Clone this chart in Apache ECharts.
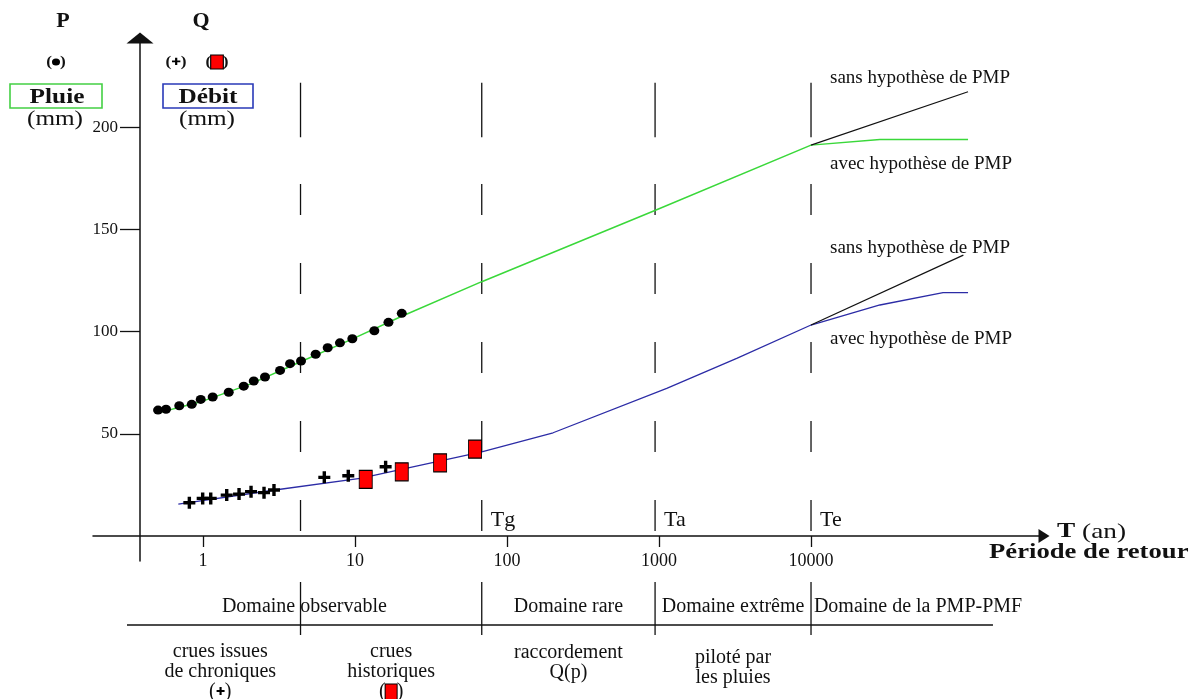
<!DOCTYPE html>
<html><head><meta charset="utf-8">
<script src="https://cdn.jsdelivr.net/npm/echarts@6/dist/echarts.min.js"></script>
<style>html,body{margin:0;padding:0;background:#fff}#c{width:1197px;height:699px}</style>
</head><body><div id="c"></div>
<script>
// ---------- data ----------
const xTicks = [1, 10, 100, 1000, 10000];
const yTicks = [50, 100, 150, 200];
const boundaries = [4.38, 68.2, 942, 10000];
const boundaryTags = ['', 'Tg', 'Ta', 'Te'];
const domainLabels = ['Domaine observable', 'Domaine rare', 'Domaine extrême', 'Domaine de la PMP-PMF'];
const noteLabels = ['crues issues\nde chroniques', 'crues\nhistoriques', 'raccordement\nQ(p)', 'piloté par\nles pluies'];

// Pluie observée (points noirs)
const pluieObsT = [0.506, 0.571, 0.698, 0.843, 0.966, 1.158, 1.476, 1.853, 2.157, 2.557, 3.212, 3.736, 4.414, 5.51, 6.61, 7.96, 9.60, 13.4, 16.6, 20.3];
const pluieObsP = [61.6, 62.0, 63.7, 64.4, 66.8, 68.0, 70.3, 73.3, 75.8, 77.8, 81.0, 84.3, 85.6, 88.9, 92.1, 94.5, 96.5, 100.4, 104.5, 108.9];
// Pluie ajustée
const pluieFitT = [0.498, 0.955, 2.04, 4.35, 9.25, 19.8, 68.2, 939, 10000];
const pluieFitP = [60.1, 65.5, 74.3, 85.1, 95.8, 107.1, 124.4, 159.2, 191.2];
const pluieAvecT = [10000, 28400, 107900];
const pluieAvecP = [191.2, 194.0, 194.0];
const pluieSansT = [10000, 107900];
const pluieSansP = [191.2, 217.3];

// Débit : crues issues de chroniques (+)
const debitChronT = [0.813, 0.995, 1.124, 1.432, 1.726, 2.07, 2.52, 2.93, 6.28, 9.03, 15.9];
const debitChronQ = [16.3, 18.4, 18.4, 20.0, 20.5, 21.7, 21.2, 22.5, 28.7, 29.5, 33.9];
// Débit : crues historiques (rectangles rouges)
const debitHistT = [11.76, 20.3, 36.3, 61.6];
const debitHistQ = [27.7, 31.4, 35.8, 42.5];
// Débit ajusté
const debitFitT = [0.688, 2.97, 10.8, 68.2, 201, 1124, 3245, 10000];
const debitFitQ = [15.6, 22.5, 28.2, 41.2, 50.5, 72.2, 86.9, 103.2];
const debitAvecT = [10000, 28400, 73900, 107900];
const debitAvecQ = [103.2, 113.0, 119.0, 119.0];
const debitSansT = [10000, 100500];
const debitSansQ = [103.2, 137.4];

// ---------- build ----------
const SERIF = "'Liberation Serif','Times New Roman',serif";
const INK = '#111';
const GREEN = '#3ad83a';
const BLUE = '#2c2ca6';
const zip = (a, b) => a.map((v, i) => [v, b[i]]);
const gm = (a, b) => Math.sqrt(a * b);

const X_MIN = 0.1889, X_MAX = 341000;
const ruleStartT = 0.316, ruleEndT = 157400, axisStartT = 0.385, lastLabelEdgeT = 256000;
const DASH_TOP = 195.1, LINE_TOP = 221.7;

const series = [];
function line(data, color, width, extra) {
  return Object.assign({ type: 'line', data, symbol: 'none', silent: true,
    lineStyle: { color, width }, z: 3 }, extra || {});
}
series.push(line(zip(pluieFitT, pluieFitP).concat(zip(pluieAvecT, pluieAvecP).slice(1)), GREEN, 1.5));
series.push(line(zip(pluieSansT, pluieSansP), INK, 1.2));
series.push(line(zip(debitFitT, debitFitQ).concat(zip(debitAvecT, debitAvecQ).slice(1)), BLUE, 1.3));
series.push(line(zip(debitSansT, debitSansQ), INK, 1.2));

boundaries.forEach(b => {
  series.push(line([[b, 0], [b, DASH_TOP]], INK, 1.3, { lineStyle: { color: INK, width: 1.3, type: [31, 48], dashOffset: 74 }, z: 2 }));
  series.push(line([[b, DASH_TOP], [b, LINE_TOP]], INK, 1.3, { z: 2 }));
});

series.push({ type: 'scatter', data: zip(pluieObsT, pluieObsP), symbol: 'circle', symbolSize: [10, 9],
  itemStyle: { color: '#000', opacity: 1 }, z: 5, silent: true });
series.push({ type: 'scatter', data: zip(debitChronT, debitChronQ),
  symbol: 'path://M0,4.3H4.3V0H7.7V4.3H12V7.7H7.7V12H4.3V7.7H0Z', symbolSize: 12,
  itemStyle: { color: '#000', opacity: 1 }, z: 5, silent: true });
series.push({ type: 'scatter', data: zip(debitHistT, debitHistQ), symbol: 'rect', symbolSize: [13, 18],
  itemStyle: { color: '#ff0000', borderColor: '#000', borderWidth: 1, opacity: 1 }, z: 6, silent: true });

// Tg / Ta / Te tags
series.push({ type: 'scatter', symbolSize: 0, silent: true, z: 6, itemStyle: { opacity: 1 },
  data: boundaries.map((b, i) => ({ value: [b, 7.5], label: { formatter: boundaryTags[i] } })),
  label: { show: true, position: 'right', distance: 9, fontFamily: SERIF, fontSize: 22, color: INK } });

// ---- lower table (grid 1) ----
boundaries.forEach(b => {
  series.push(line([[b, 12], [b, 65]], INK, 1.3, { xAxisIndex: 1, yAxisIndex: 1 }));
});
series.push(line([[ruleStartT, 55], [ruleEndT, 55]], INK, 1.3, { xAxisIndex: 1, yAxisIndex: 1 }));
const domainEdges = [ruleStartT, boundaries[1], boundaries[2], boundaries[3], lastLabelEdgeT];
series.push({ type: 'scatter', xAxisIndex: 1, yAxisIndex: 1, symbolSize: 0, silent: true, z: 6, itemStyle: { opacity: 1 },
  data: domainLabels.map((s, i) => ({ value: [gm(domainEdges[i], domainEdges[i + 1]), 37], label: { formatter: s } })),
  label: { show: true, position: 'inside', fontFamily: SERIF, fontSize: 20, color: INK } });
const noteEdges = [axisStartT, boundaries[0], boundaries[1], boundaries[2], boundaries[3]];
const noteRows = [102, 102, 93, 97.5];
const noteExtra = ['\n({c|✚})', '\n({r|})', '', ''];
series.push({ type: 'scatter', xAxisIndex: 1, yAxisIndex: 1, symbolSize: 0, silent: true, z: 6, itemStyle: { opacity: 1 },
  data: noteLabels.map((s, i) => ({ value: [gm(noteEdges[i], noteEdges[i + 1]), noteRows[i]], label: { formatter: s + noteExtra[i] } })),
  label: { show: true, position: 'inside', fontFamily: SERIF, fontSize: 20, lineHeight: 20, color: INK, align: 'center',
    rich: { c: { fontSize: 11, color: '#000', fontFamily: 'DejaVu Sans', lineHeight: 20 },
            r: { width: 11, height: 15, backgroundColor: '#ff0000', borderColor: '#000', borderWidth: 1 } } } });

// ---------- header and annotation texts ----------
function txt(x, y, text, style, sx) {
  return { type: 'text', x, y, scaleX: sx || 1, silent: true, style: Object.assign({ text, fontFamily: SERIF, fill: INK,
    align: 'center', verticalAlign: 'middle' }, style) };
}
const graphic = [
  txt(63, 22, 'P', { fontSize: 20, fontWeight: 'bold' }, 1.1),
  txt(201, 22, 'Q', { fontSize: 20, fontWeight: 'bold' }, 1.1),
  txt(56, 62, '({d|})', { fontSize: 15, fontWeight: 'bold', rich: { d: { width: 7, height: 7, backgroundColor: '#000', borderRadius: 4 } } }, 1.15),
  txt(176, 62, '({c|✚})', { fontSize: 15, fontWeight: 'bold', rich: { c: { fontSize: 10, fontFamily: 'DejaVu Sans', fill: '#000' } } }, 1.15),
  txt(217, 62, '({r|})', { fontSize: 15, fontWeight: 'bold', rich: { r: { width: 10, height: 13, backgroundColor: '#ff0000', borderColor: '#000', borderWidth: 1 } } }, 1.15),
  { type: 'rect', shape: { x: 10, y: 84, width: 92, height: 24 }, style: { fill: 'none', stroke: '#44d044', lineWidth: 1.6 }, silent: true },
  { type: 'rect', shape: { x: 163, y: 84, width: 90, height: 24 }, style: { fill: 'none', stroke: '#2a3ab8', lineWidth: 1.6 }, silent: true },
  txt(57, 97, 'Pluie', { fontSize: 22, fontWeight: 'bold' }, 1.15),
  txt(208, 97, 'Débit', { fontSize: 22, fontWeight: 'bold' }, 1.15),
  txt(55, 119, '(mm)', { fontSize: 21 }, 1.2),
  txt(207, 119, '(mm)', { fontSize: 21 }, 1.2),
  txt(830, 78, 'sans hypothèse de PMP', { fontSize: 19, align: 'left' }),
  txt(830, 164, 'avec hypothèse de PMP', { fontSize: 19, align: 'left' }),
  txt(830, 248, 'sans hypothèse de PMP', { fontSize: 19, align: 'left' }),
  txt(830, 339, 'avec hypothèse de PMP', { fontSize: 19, align: 'left' }),
  txt(1057, 532, '{b|T} (an)', { fontSize: 21, align: 'left', rich: { b: { fontSize: 21, fontWeight: 'bold', fontFamily: SERIF } } }, 1.3),
  txt(989, 553, 'Période de retour', { fontSize: 21, fontWeight: 'bold', align: 'left' }, 1.27)
];

const option = {
  animation: false,
  backgroundColor: '#fff',
  grid: [
    { left: 93, right: 153, top: 38, bottom: 138 },
    { left: 93, right: 153, top: 570, bottom: 0 }
  ],
  xAxis: [
    { type: 'log', gridIndex: 0, min: X_MIN, max: X_MAX,
      axisLine: { onZero: true, symbol: ['none', 'triangle'], symbolSize: [14, 11], lineStyle: { color: INK, width: 1.5 } },
      axisTick: { customValues: xTicks, length: 11, lineStyle: { color: INK, width: 1.3 } },
      axisLabel: { customValues: xTicks, margin: -9, fontFamily: SERIF, fontSize: 18, color: INK,
        formatter: v => String(Math.round(v)) },
      splitLine: { show: false }, minorTick: { show: false } },
    { type: 'log', gridIndex: 1, min: X_MIN, max: X_MAX, show: false }
  ],
  yAxis: [
    { type: 'value', gridIndex: 0, min: -12.23, max: 243.6, offset: -47,
      axisLine: { show: true, onZero: false, symbol: ['none', 'triangle'], symbolSize: [27, 11], lineStyle: { color: INK, width: 1.5 } },
      axisTick: { show: true, customValues: yTicks, length: 20, lineStyle: { color: INK, width: 1.3 } },
      axisLabel: { customValues: yTicks, margin: 22, fontFamily: SERIF, fontSize: 17, color: INK },
      splitLine: { show: false } },
    { type: 'value', gridIndex: 1, min: 0, max: 129, inverse: true, show: false }
  ],
  series,
  graphic
};
const chart = echarts.init(document.getElementById('c'), null, { renderer: 'canvas' });
chart.setOption(option);
</script></body></html>
